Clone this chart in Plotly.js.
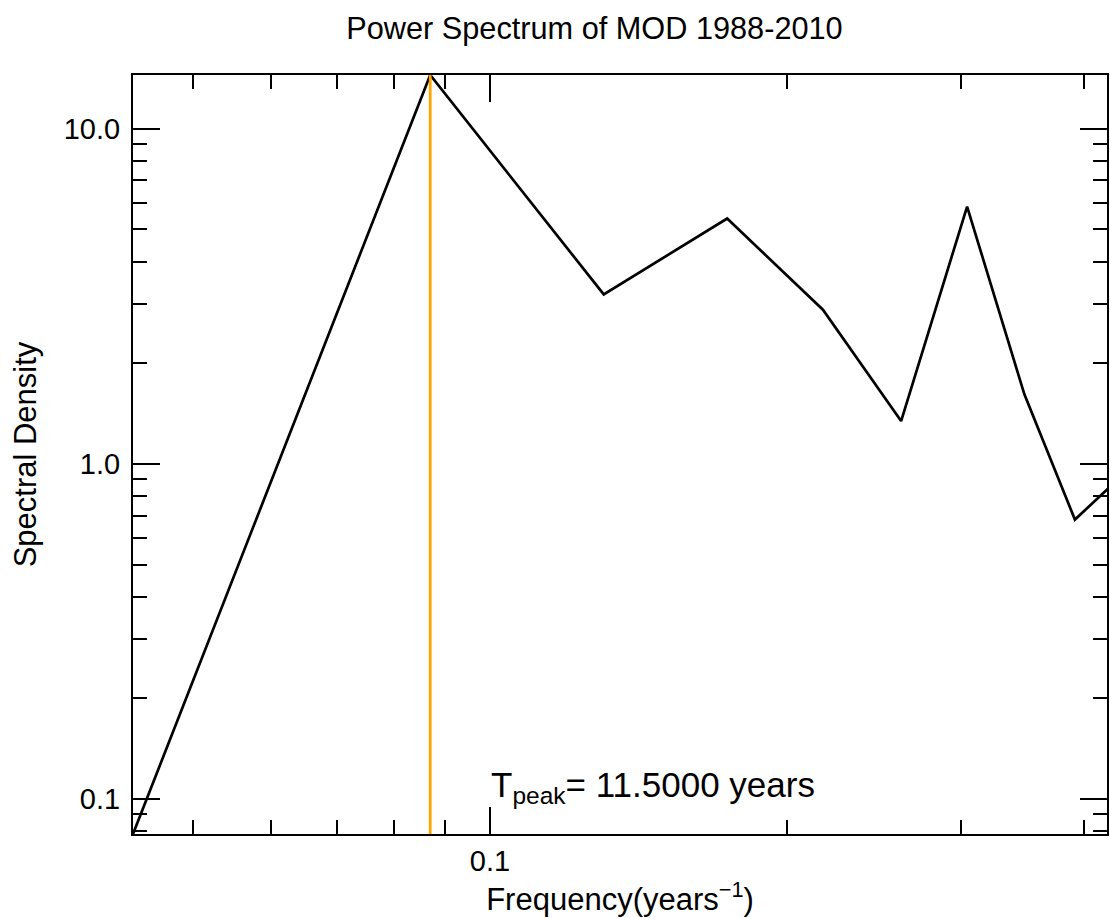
<!DOCTYPE html>
<html>
<head>
<meta charset="utf-8">
<script src="https://cdn.plot.ly/plotly-3.0.1.min.js"></script>
<style>html,body{margin:0;padding:0;background:#fff;}#chart{width:1110px;height:918px;}</style>
</head>
<body>
<div id="chart"></div>
<script>
// Frequencies (years^-1) and spectral density
const frequency = [0.0435, 0.0870, 0.1304, 0.1739, 0.2174, 0.2609, 0.3043, 0.3478, 0.3913, 0.4348];
const spectralDensity = [0.0785, 14.45, 3.20, 5.39, 2.88, 1.34, 5.85, 1.61, 0.681, 0.91];
const peakFrequency = 0.0870;
const peakPeriodText = "T<sub>peak</sub>= 11.5000 years";
const xMax = 0.4217;
const titleText = "Power Spectrum of MOD 1988-2010";
const xTitle = "Frequency(years<sup>\u22121</sup>)";
const yTitle = "Spectral Density";

const yMin = Math.min(...spectralDensity);
const yMax = Math.max(...spectralDensity);

const FONT = "'Liberation Sans', Arial, Helvetica, sans-serif";

const traces = [
  {
    x: frequency, y: spectralDensity, type: 'scatter', mode: 'lines',
    line: {color: '#000000', width: 2.7}, hoverinfo: 'skip', showlegend: false
  },
  {
    x: [peakFrequency, peakFrequency], y: [yMin, yMax], type: 'scatter', mode: 'lines',
    line: {color: '#FFA500', width: 2.8}, hoverinfo: 'skip', showlegend: false
  }
];

const axisCommon = {
  type: 'log',
  showgrid: false, zeroline: false,
  showline: true, linecolor: '#000', linewidth: 2,
  mirror: 'ticks',
  ticks: 'inside', ticklen: 27, tickwidth: 2, tickcolor: '#000',
  dtick: 1, tickformat: '.1f',
  tickfont: {family: FONT, size: 29, color: '#000'},
  minor: {ticks: 'inside', ticklen: 14, tickwidth: 2, tickcolor: '#000', dtick: 'D1', showgrid: false}
};

const layout = {
  width: 1110, height: 918,
  paper_bgcolor: '#fff', plot_bgcolor: '#fff',
  margin: {l: 133, r: 3, t: 75, b: 84},
  font: {family: FONT, color: '#000'},
  showlegend: false,
  title: {
    text: titleText, font: {family: FONT, size: 30.7, color: '#000'},
    xref: 'paper', x: 0.4738, xanchor: 'center',
    yref: 'container', y: 0.969, yanchor: 'middle'
  },
  xaxis: Object.assign({}, axisCommon, {
    range: [Math.log10(frequency[0]), Math.log10(xMax)],
    title: {text: xTitle, font: {family: FONT, size: 31, color: '#000'}, standoff: 4}
  }),
  yaxis: Object.assign({}, axisCommon, {
    range: [Math.log10(yMin), Math.log10(yMax)],
    ticklabelstandoff: 5,
    title: {text: yTitle, font: {family: FONT, size: 31, color: '#000'}, standoff: 18}
  }),
  annotations: [{
    text: peakPeriodText, showarrow: false,
    xref: 'paper', yref: 'paper', x: 0.3655, y: 0.062, xanchor: 'left', yanchor: 'middle',
    font: {family: FONT, size: 35, color: '#000'}
  }]
};

Plotly.newPlot('chart', traces, layout, {staticPlot: true, displayModeBar: false});
</script>
</body>
</html>
